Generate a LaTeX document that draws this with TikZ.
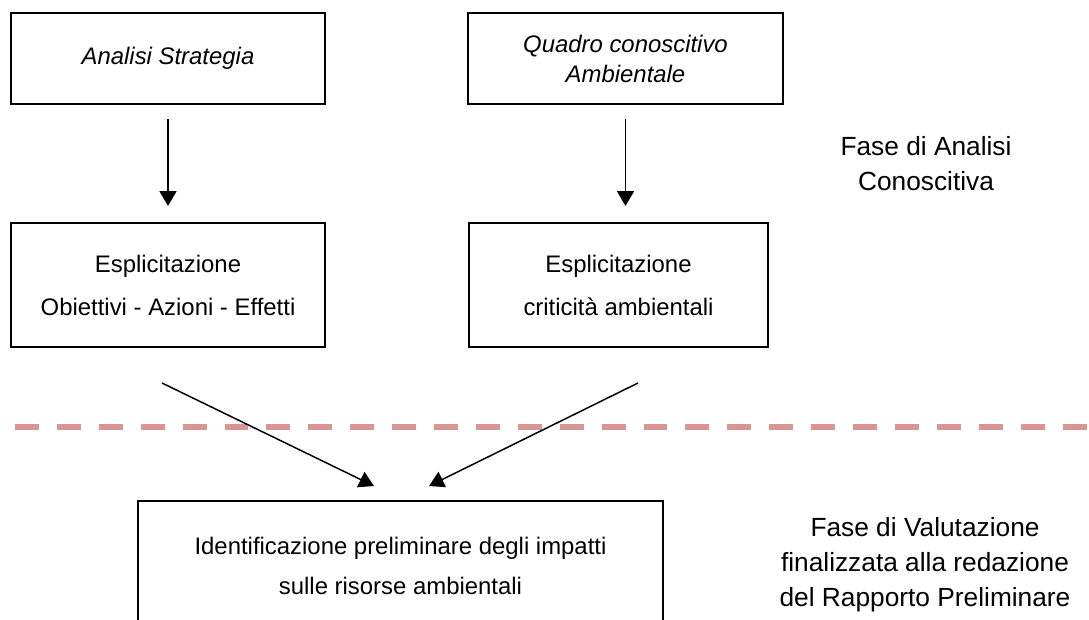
\documentclass[tikz,border=0pt]{standalone}
\usepackage{fontspec}
\setmainfont{Liberation Sans}
\usetikzlibrary{calc}
\usetikzlibrary{arrows.meta}
\definecolor{PhaseRed}{RGB}{217,149,148}
\tikzset{
	box/.style={draw=black,line width=1.4pt,inner sep=0pt,align=center,
		font=\fontsize{17}{21.3}\selectfont},
	link/.style={draw=black,line width=1.05pt,-{Triangle[width=12pt,length=10.5pt]}},
	phase/.style={align=center,font=\fontsize{18.7}{24.9}\selectfont},
	divider/.style={draw=PhaseRed,line width=4.3pt,dash pattern=on 17pt off 12.8pt},
}

\begin{document}
\begin{tikzpicture}[x=0.025cm,y=-0.025cm]
	\clip (0,0) rectangle (1089,619);
	% analysis phase
	\node[box,minimum width=7.85cm,minimum height=2.275cm] (strat) at (168,58.5) {\itshape Analisi Strategia};
	\node[box,minimum width=7.875cm,minimum height=2.275cm] (quadro) at (625.5,58.5) {\itshape Quadro conoscitivo\\\itshape Ambientale};
	\node[box,minimum width=7.85cm,minimum height=3.1cm,font=\fontsize{17}{30.6}\selectfont] (obiet) at (168,285) {Esplicitazione\\Obiettivi - Azioni - Effetti};
	\node[box,minimum width=7.475cm,minimum height=3.1cm,font=\fontsize{17}{30.6}\selectfont] (critic) at (618.5,285) {Esplicitazione\\criticità ambientali};
	\node[phase] (fase1) at (926,164) {Fase di Analisi\\Conoscitiva};
	% evaluation phase
	\node[box,minimum width=13.125cm,minimum height=3.25cm,font=\fontsize{17}{28.5}\selectfont] (impatti) at (400.5,566) {Identificazione preliminare degli impatti\\sulle risorse ambientali};
	\node[phase] (fase2) at (925,565) {Fase di Valutazione\\finalizzata alla redazione\\del Rapporto Preliminare};
	\coordinate (cutL) at (15,427);
	\coordinate (cutR) at (1095,427);
	\draw[divider] (cutL) -- (cutR);
	\foreach \a/\b in {strat/obiet,quadro/critic}
	\draw[link,shorten <=10pt,shorten >=11.4pt] (\a.south) -- (\a.south |- \b.north);
	\draw[link] ([shift={(-6,35)}]obiet.south) -- ([shift={(-26.5,-14)}]impatti.north);
	\draw[link] ([shift={(19.5,35)}]critic.south) -- ([shift={(28.5,-14)}]impatti.north);
\end{tikzpicture}
\end{document}
